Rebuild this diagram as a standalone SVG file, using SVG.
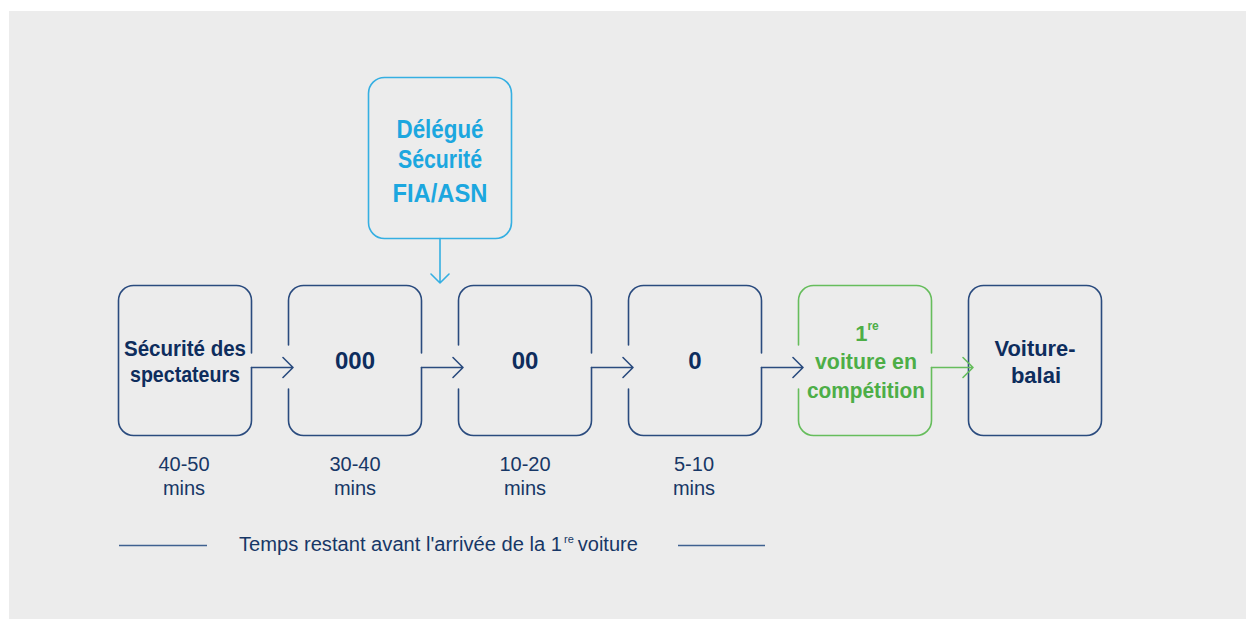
<svg xmlns="http://www.w3.org/2000/svg" width="1246" height="619" viewBox="0 0 1246 619">
<style>
.navy{fill:none;stroke:#2A4B7E;stroke-width:1.6;stroke-linecap:round;stroke-linejoin:round}
.green{fill:none;stroke:#66BD5C;stroke-width:1.6;stroke-linecap:round;stroke-linejoin:round}
.blue{fill:none;stroke:#35AFE2;stroke-width:1.6;stroke-linecap:round;stroke-linejoin:round}
.t{font-family:"Liberation Sans",Arial,sans-serif;font-weight:bold;text-anchor:middle}
.tn{fill:#0E2D5D}
.tg{fill:#4DAE47}
.tb{fill:#1CA7DF}
.lab{font-family:"Liberation Sans",Arial,sans-serif;font-size:20px;fill:#173766;text-anchor:middle}
</style>
<rect x="9" y="11" width="1237" height="608" fill="#ECECEC"/>

<g id="node-delegue">
<rect class="blue" x="368.5" y="77.5" width="143" height="161" rx="16"/>
<text class="t tb" font-size="25" x="440" y="138" textLength="87" lengthAdjust="spacingAndGlyphs">Délégué</text>
<text class="t tb" font-size="25" x="440" y="168" textLength="84" lengthAdjust="spacingAndGlyphs">Sécurité</text>
<text class="t tb" font-size="25" x="440" y="202" textLength="95" lengthAdjust="spacingAndGlyphs">FIA/ASN</text>
</g>

<g id="node-securite">
<path class="navy" d="M251.5 353 V300.5 A15 15 0 0 0 236.5 285.5 H133.5 A15 15 0 0 0 118.5 300.5 V420.5 A15 15 0 0 0 133.5 435.5 H236.5 A15 15 0 0 0 251.5 420.5 V367.5"/>
<text class="t tn" font-size="22" x="185" y="356" textLength="122" lengthAdjust="spacingAndGlyphs">Sécurité des</text>
<text class="t tn" font-size="22" x="185" y="382" textLength="110" lengthAdjust="spacingAndGlyphs">spectateurs</text>
</g>

<g id="node-000">
<path class="navy" d="M421.5 353 V300.5 A15 15 0 0 0 406.5 285.5 H303.5 A15 15 0 0 0 288.5 300.5 V345 M288.5 389 V420.5 A15 15 0 0 0 303.5 435.5 H406.5 A15 15 0 0 0 421.5 420.5 V367.5"/>
<text class="t tn" font-size="24" x="355" y="369">000</text>
</g>

<g id="node-00">
<path class="navy" d="M591.5 353 V300.5 A15 15 0 0 0 576.5 285.5 H473.5 A15 15 0 0 0 458.5 300.5 V345 M458.5 389 V420.5 A15 15 0 0 0 473.5 435.5 H576.5 A15 15 0 0 0 591.5 420.5 V367.5"/>
<text class="t tn" font-size="24" x="525" y="369">00</text>
</g>

<g id="node-0">
<path class="navy" d="M761.5 353 V300.5 A15 15 0 0 0 746.5 285.5 H643.5 A15 15 0 0 0 628.5 300.5 V345 M628.5 389 V420.5 A15 15 0 0 0 643.5 435.5 H746.5 A15 15 0 0 0 761.5 420.5 V367.5"/>
<text class="t tn" font-size="24" x="695" y="369">0</text>
</g>

<g id="node-premiere">
<path class="green" d="M931.5 353 V300.5 A15 15 0 0 0 916.5 285.5 H813.5 A15 15 0 0 0 798.5 300.5 V345 M798.5 389 V420.5 A15 15 0 0 0 813.5 435.5 H916.5 A15 15 0 0 0 931.5 420.5 V367.5"/>
<text class="t tg" font-size="22" x="867" y="341">1<tspan font-size="12" dy="-11">re</tspan></text>
<text class="t tg" font-size="22" x="866" y="369" textLength="102" lengthAdjust="spacingAndGlyphs">voiture en</text>
<text class="t tg" font-size="22" x="866" y="398" textLength="118" lengthAdjust="spacingAndGlyphs">compétition</text>
</g>

<g id="node-voiture-balai">
<rect class="navy" x="968.5" y="285.5" width="133" height="150" rx="15"/>
<text class="t tn" font-size="22" x="1035" y="356" textLength="81" lengthAdjust="spacingAndGlyphs">Voiture-</text>
<text class="t tn" font-size="22" x="1036" y="383">balai</text>
</g>

<g id="connectors">
<path class="navy" d="M251.5 367.5 H293 M283 357.5 L293 367.5 L283 377.5"/>
<path class="navy" d="M421.5 367.5 H463 M453 357.5 L463 367.5 L453 377.5"/>
<path class="navy" d="M591.5 367.5 H633 M623 357.5 L633 367.5 L623 377.5"/>
<path class="navy" d="M761.5 367.5 H803 M793 357.5 L803 367.5 L793 377.5"/>
<path class="green" d="M931.5 367.5 H973 M963 357.5 L973 367.5 L963 377.5"/>
<path class="blue" d="M440 238.5 V283 M431 274 L440 283 L449 274"/>
</g>

<g id="labels">
<text class="lab" x="184" y="471">40-50</text>
<text class="lab" x="184" y="495">mins</text>
<text class="lab" x="355" y="471">30-40</text>
<text class="lab" x="355" y="495">mins</text>
<text class="lab" x="525" y="471">10-20</text>
<text class="lab" x="525" y="495">mins</text>
<text class="lab" x="694" y="471">5-10</text>
<text class="lab" x="694" y="495">mins</text>
</g>

<g id="legend">
<line x1="119" y1="545.5" x2="207" y2="545.5" stroke="#3F6190" stroke-width="1.6"/>
<line x1="678" y1="545.5" x2="765" y2="545.5" stroke="#3F6190" stroke-width="1.6"/>
<text font-family="Liberation Sans, Arial, sans-serif" font-size="20" fill="#173766" x="239" y="551"><tspan textLength="323" lengthAdjust="spacingAndGlyphs">Temps restant avant l'arrivée de la 1</tspan><tspan font-size="11" dx="2" dy="-8">re</tspan><tspan dy="8" dx="4">voiture</tspan></text>
</g>
</svg>
